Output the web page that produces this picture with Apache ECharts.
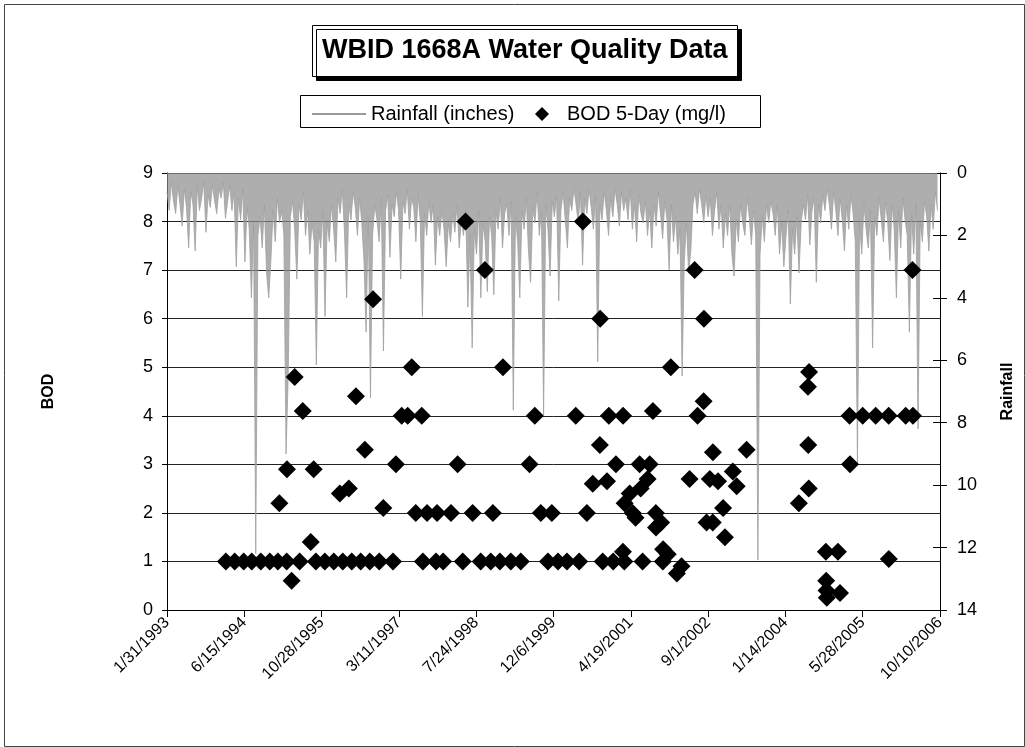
<!DOCTYPE html>
<html>
<head>
<meta charset="utf-8">
<script src="https://cdn.jsdelivr.net/npm/echarts@6/dist/echarts.min.js"></script>
<style>
html,body{margin:0;padding:0;background:#fff;}
#chart{width:1025px;height:747px;}
</style>
</head>
<body>
<div id="chart"></div>
<script>
// ---- Data ----
const chartTitle = 'WBID 1668A Water Quality Data';
const xTickLabels = ['1/31/1993','6/15/1994','10/28/1995','3/11/1997','7/24/1998','12/6/1999','4/19/2001','9/1/2002','1/14/2004','5/28/2005','10/10/2006'];
const xStartDate = '1993-01-31';
const xTickDays = 500;

// Rainfall (inches): one reading every 14 days starting at rainStart
const rainStart = '1993-01-31';
const rainStepDays = 14;
const rainfall = [
  0.6,1.2,0.3,0.9,1.3,0.4,1.0,1.7,0.5,1.1,
  2.4,0.6,1.0,2.5,0.4,1.2,0.8,0.3,1.9,0.7,
  1.1,0.4,0.9,1.3,0.5,0.8,0.3,1.45,0.9,0.4,
  1.2,0.6,3.0,0.8,1.5,0.5,2.85,1.1,1.8,4.0,
  1.6,12.2,2.0,1.4,2.4,1.0,3.2,4.0,2.8,1.2,
  2.2,0.8,1.6,1.2,2.0,9.0,6.5,1.4,0.9,1.8,
  3.4,1.0,1.5,0.6,2.0,1.2,2.6,1.6,2.2,6.15,
  1.8,2.4,1.2,4.6,1.6,2.2,1.0,1.8,2.85,0.8,
  1.3,0.5,1.9,4.0,1.0,1.5,0.6,1.1,2.0,0.8,
  1.6,2.8,5.1,1.4,7.2,2.0,1.0,1.5,2.2,0.8,
  5.7,1.2,0.7,2.7,1.0,1.4,0.6,1.2,3.4,0.9,
  1.3,0.5,1.8,0.8,1.1,2.2,0.7,1.5,4.6,1.3,
  2.0,0.9,1.6,1.0,2.95,1.4,2.0,1.2,1.8,3.0,
  1.6,2.2,1.3,1.9,1.0,2.4,1.5,2.0,1.2,4.3,
  2.0,5.6,1.8,2.6,1.2,4.0,1.6,2.2,3.8,1.4,
  2.0,3.9,1.2,1.8,0.8,2.4,1.3,1.0,2.0,0.9,
  7.6,1.4,2.2,4.0,1.2,1.8,0.8,2.5,3.5,1.1,
  1.6,0.6,2.0,1.2,7.75,1.0,1.8,3.3,0.9,1.4,
  0.7,4.1,1.2,0.6,1.5,2.4,0.8,1.2,0.5,1.0,
  1.6,0.6,2.95,0.8,1.3,0.5,1.1,1.8,0.7,6.05,
  1.0,1.5,0.6,1.2,2.0,0.8,1.4,0.5,1.0,1.7,
  0.6,1.2,0.8,1.5,0.5,1.8,1.0,2.2,0.7,1.3,
  1.6,0.9,2.0,1.2,2.4,1.0,1.7,0.6,1.3,2.1,
  0.9,1.5,3.1,1.0,2.2,1.4,2.6,1.8,6.5,2.8,
  1.6,3.2,2.5,1.0,0.6,1.3,0.5,1.0,1.6,0.7,
  1.4,0.8,2.0,1.2,0.6,1.8,1.0,2.4,1.3,2.0,
  1.0,2.6,3.3,1.5,2.2,1.0,1.6,2.0,0.8,1.4,
  2.3,1.2,2.0,12.4,2.6,1.4,2.2,1.0,1.6,0.9,
  1.3,2.0,1.0,2.6,1.6,3.0,2.0,1.2,4.2,1.8,
  2.6,1.4,3.2,1.6,1.0,1.5,0.7,2.3,1.2,0.8,
  3.5,1.0,1.6,0.7,1.2,0.5,1.0,1.8,0.6,1.2,
  2.0,0.8,1.5,2.5,1.0,1.8,0.7,1.3,2.2,9.3,
  1.6,2.6,1.0,1.8,2.4,1.2,5.6,1.4,2.0,0.8,
  1.5,2.2,0.9,1.6,2.8,1.0,1.8,4.0,1.2,2.4,
  0.8,1.5,2.0,5.1,1.3,2.6,1.0,8.2,1.6,2.2,
  0.9,1.4,2.5,1.0,1.8,0.6,1.2
];

// BOD 5-Day (mg/l) samples
const bodDates = [
  '1994-02-16','1994-04-14','1994-06-11','1994-08-02','1994-09-30','1994-11-27',
  '1995-01-18','1995-01-28','1995-03-16','1995-03-18','1995-04-17','1995-05-07','1995-06-08','1995-06-28','1995-08-19','1995-09-07','1995-09-21','1995-11-18',
  '1996-01-15','1996-02-23','1996-03-13','1996-04-21','1996-05-10','1996-06-06','1996-07-07','1996-08-03','1996-09-04','1996-09-25','1996-11-04','1996-11-30',
  '1997-02-01','1997-02-20','1997-03-29','1997-05-07','1997-06-02','1997-06-28','1997-08-06','1997-08-13','1997-09-09','1997-11-06','1997-11-13','1997-12-22',
  '1998-02-11','1998-03-26','1998-04-28','1998-05-16','1998-07-01','1998-08-22','1998-09-18','1998-10-26','1998-11-09','1998-12-24',
  '1999-01-13','1999-03-05','1999-05-08','1999-07-04','1999-08-07','1999-09-15','1999-10-31','1999-11-25',
  '2000-01-04','2000-03-02','2000-04-28','2000-05-20','2000-06-13','2000-07-09','2000-08-16','2000-10-01','2000-10-03','2000-10-19','2000-11-16','2000-11-28','2000-12-26',
  '2001-01-13','2001-02-27','2001-02-28','2001-03-08','2001-03-10','2001-04-12','2001-05-01','2001-05-20','2001-06-15','2001-06-22','2001-07-04','2001-08-06','2001-08-19','2001-09-09','2001-09-28','2001-09-29','2001-11-01','2001-11-12','2001-11-14','2001-12-14',
  '2002-01-03','2002-02-11','2002-03-13','2002-05-04','2002-06-06','2002-06-25','2002-08-03','2002-08-05','2002-08-22','2002-09-12','2002-10-01','2002-10-02','2002-11-04','2002-12-07','2002-12-19',
  '2003-02-08','2003-03-05','2003-05-08',
  '2004-04-10','2004-06-08','2004-06-10','2004-06-13','2004-06-15','2004-10-02','2004-10-04','2004-10-06','2004-10-08','2004-12-19',
  '2005-01-01','2005-03-04','2005-03-07','2005-05-28','2005-08-20','2005-11-12','2005-11-13',
  '2006-03-02','2006-04-15','2006-04-18'
];
const bodValues = [
  1.0,1.0,1.0,1.0,1.0,1.0,
  1.0,2.2,1.0,2.9,0.6,4.8,1.0,4.1,1.4,2.9,1.0,1.0,
  1.0,2.4,1.0,2.5,1.0,4.4,1.0,3.3,1.0,6.4,1.0,2.1,
  1.0,3.0,4.0,4.0,5.0,2.0,4.0,1.0,2.0,1.0,2.0,1.0,
  2.0,3.0,1.0,8.0,2.0,1.0,7.0,1.0,2.0,1.0,
  5.0,1.0,1.0,3.0,4.0,2.0,1.0,2.0,
  1.0,1.0,4.0,1.0,8.0,2.0,2.6,3.4,6.0,1.0,2.65,4.0,1.0,
  3.0,1.2,4.0,1.0,2.2,2.4,2.0,1.9,3.0,2.5,1.0,2.7,3.0,4.1,2.0,1.7,1.8,1.0,1.25,1.15,
  5.0,0.75,0.9,2.7,7.0,4.0,4.3,6.0,1.8,2.7,1.8,3.25,2.65,2.1,1.5,
  2.85,2.55,3.3,
  2.2,4.6,3.4,2.5,4.9,1.2,0.6,0.4,0.25,1.2,
  0.35,4.0,3.0,4.0,4.0,4.0,1.05,
  4.0,7.0,4.0
];

// ---- helpers: dates -> day serial (Excel style) ----
function serial(iso) {
  const p = iso.split('-').map(Number);
  return Math.round((Date.UTC(p[0], p[1] - 1, p[2]) - Date.UTC(1899, 11, 30)) / 86400000);
}
const xMin = serial(xStartDate);
const xMax = xMin + xTickDays * (xTickLabels.length - 1);
const rain0 = serial(rainStart);
const rainData = rainfall.map((v, i) => [rain0 + i * rainStepDays, v]);
const bodData = bodDates.map((d, i) => [serial(d), bodValues[i]]);

const FONT = '"Liberation Sans", Arial, sans-serif';
const chart = echarts.init(document.getElementById('chart'), null, {renderer: 'canvas'});
chart.setOption({
  animation: false,
  backgroundColor: '#fff',
  title: {
    text: chartTitle,
    left: 312, top: 25,
    padding: [11, 10],
    borderColor: '#000', borderWidth: 1,
    backgroundColor: '#fff',
    shadowColor: '#000', shadowOffsetX: 4, shadowOffsetY: 4, shadowBlur: 0.01,
    textStyle: {fontFamily: FONT, fontSize: 27, fontWeight: 'bold', color: '#000', lineHeight: 30}
  },
  graphic: [
    {type: 'rect', left: 2, top: 2, shape: {width: 1020, height: 742}, style: {fill: 'none', stroke: '#444', lineWidth: 1}, z: -10},
    {type: 'rect', left: 300, top: 95, shape: {width: 460, height: 32}, style: {fill: '#fff', stroke: '#000', lineWidth: 1}, z: -5}
  ],
  legend: [
    {
      data: [{name: 'Rainfall (inches)', icon: 'rect', itemStyle: {color: '#9a9a9a'}}],
      left: 307, top: 99,
      itemWidth: 54, itemHeight: 2,
      textStyle: {fontFamily: FONT, fontSize: 20, color: '#000'}
    },
    {
      data: [{name: 'BOD 5-Day (mg/l)', icon: 'path://M0,-1L1,0L0,1L-1,0Z', itemStyle: {color: '#000', opacity: 1}}],
      left: 530, top: 99,
      itemWidth: 40, itemHeight: 14,
      textStyle: {fontFamily: FONT, fontSize: 20, color: '#000'}
    }
  ],
  grid: {left: 167, right: 85, top: 173, bottom: 137, containLabel: false},
  xAxis: {
    type: 'value', min: xMin, max: xMax, interval: xTickDays,
    axisLine: {show: true, lineStyle: {color: '#000', width: 1}},
    axisTick: {show: true, length: 7, lineStyle: {color: '#000'}},
    splitLine: {show: false},
    axisLabel: {
      rotate: 45, fontSize: 16, fontFamily: FONT, color: '#000', margin: 10,
      formatter: v => xTickLabels[Math.round((v - xMin) / xTickDays)] || ''
    }
  },
  yAxis: [
    {
      type: 'value', position: 'left', min: 0, max: 9, interval: 1,
      name: 'BOD', nameLocation: 'middle', nameRotate: 90, nameGap: 110,
      nameTextStyle: {fontFamily: FONT, fontSize: 16, fontWeight: 'bold', color: '#000'},
      axisLine: {show: true, lineStyle: {color: '#000', width: 1}},
      axisTick: {show: true, length: 5, lineStyle: {color: '#000'}},
      axisLabel: {fontFamily: FONT, fontSize: 18, color: '#000', margin: 14},
      splitLine: {show: true, lineStyle: {color: '#222', width: 1}}
    },
    {
      type: 'value', position: 'right', min: 0, max: 14, interval: 2, inverse: true,
      name: 'Rainfall', nameLocation: 'middle', nameRotate: 90, nameGap: 60,
      nameTextStyle: {fontFamily: FONT, fontSize: 16, fontWeight: 'bold', color: '#000'},
      axisLine: {show: true, lineStyle: {color: '#000', width: 1}},
      axisTick: {show: true, length: 7, lineStyle: {color: '#000'}},
      axisLabel: {fontFamily: FONT, fontSize: 18, color: '#000', margin: 17},
      splitLine: {show: false}
    },
    {
      type: 'value', position: 'right', min: 0, max: 14, interval: 2, inverse: true,
      axisLine: {show: false},
      axisTick: {show: true, inside: true, length: 7, lineStyle: {color: '#000'}},
      axisLabel: {show: false},
      splitLine: {show: false}
    }
  ],
  series: [
    {
      name: 'Rainfall (inches)', type: 'line', yAxisIndex: 1,
      data: rainData, showSymbol: false, symbol: 'none',
      lineStyle: {color: '#a0a0a0', width: 0.8},
      areaStyle: {color: '#8c8c8c', opacity: 0.7},
      itemStyle: {color: '#9a9a9a'},
      z: 1
    },
    {
      name: 'BOD 5-Day (mg/l)', type: 'scatter', yAxisIndex: 0,
      data: bodData, symbol: 'diamond', symbolSize: [18, 18],
      itemStyle: {color: '#000', opacity: 1},
      z: 3
    }
  ]
});
</script>
</body>
</html>
